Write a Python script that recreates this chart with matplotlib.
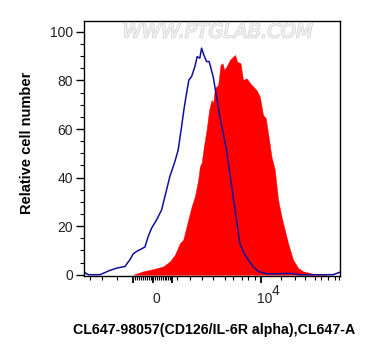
import matplotlib
matplotlib.use('Agg')
import matplotlib.pyplot as plt
import matplotlib.patheffects as pe

plt.rcParams['font.family'] = ['Liberation Sans', 'DejaVu Sans']

# display channel (0-256 on the biex axis) and relative cell number
blue_x = [0.0, 4.0, 9.0, 15.7, 25.7, 32.4, 40.7, 45.7, 49.0, 52.4, 55.7, 60.7, 64.0,
          67.4, 72.4, 77.4, 80.7, 85.7, 90.7, 94.0, 97.4, 99.7, 102.4, 104.7, 107.4,
          110.7, 113.0, 115.7, 117.4, 119.7, 122.4, 125.0, 129.0, 132.4, 135.7, 139.0,
          142.4, 145.7, 149.0, 152.4, 155.7, 159.0, 164.0, 169.0, 174.0, 182.4, 195.7,
          205.0, 215.7, 230.0, 249.0, 255.7]
blue_y = [1.0, 0.0, 0.0, 0.0, 1.8, 2.7, 3.4, 6.2, 8.6, 9.6, 10.3, 11.4, 15.8,
          19.2, 22.6, 26.7, 32.2, 40.5, 46.6, 51.4, 61.0, 67.9, 74.8, 80.2, 81.6,
          85.7, 89.8, 89.2, 93.3, 90.5, 87.8, 87.8, 81.6, 73.4, 65.1, 58.3,
          51.4, 41.8, 32.2, 22.6, 13.0, 9.6, 6.2, 3.4, 1.4, 0.4, 0.4,
          0.6, 0.0, 0.0, 0.0, 1.0]

red_x = [49.0, 59.0, 69.0, 79.0, 85.7, 90.7, 95.7, 99.0, 100.7, 104.0, 107.4, 110.7,
         114.0, 115.7, 117.4, 119.7, 122.4, 125.0, 127.4, 129.0, 130.7, 134.0, 136.4,
         138.4, 140.0, 142.4, 145.7, 149.0, 151.0, 153.0, 156.4, 159.0, 162.4, 167.4,
         172.4, 175.7, 179.0, 181.7, 184.0, 187.4, 190.7, 194.0, 197.4, 200.7, 204.0,
         209.0, 214.0, 219.0, 229.0, 242.4]
red_y = [0.0, 1.4, 2.3, 3.4, 5.5, 8.2, 13.0, 14.4, 17.1, 22.6, 28.1, 32.2,
         39.1, 44.6, 46.0, 52.8, 59.7, 67.9, 72.0, 70.6, 76.8, 78.2, 86.4,
         87.1, 84.4, 85.7, 88.5, 89.8, 90.5, 87.8, 87.1, 80.2, 80.9, 78.2,
         76.1, 73.4, 65.8, 64.5, 58.3, 48.7, 43.2, 30.9, 24.0, 18.5, 13.0,
         6.2, 2.8, 1.4, 0.4, 0.0]

y_major = [0, 20, 40, 60, 80, 100]
y_labels = ['0', '20', '40', '60', '80', '100']
y_minor = list(range(0, 105, 5))

# biex axis: linear part around zero, decades further out
x_major = [48.3, 68.5, 88.3, 176.7]
x_minor = ([5.7, 17.4, 32.4] + [48.3 + 2 * i for i in range(21)] +
           [92.4, 105.7, 117.4, 128.7, 140.7, 148.7, 157.4, 163.7, 170.7] +
           [197.4, 210.7, 220.7, 230.7, 237.4, 243.7, 250.7, 254.7])

fig = plt.figure(figsize=(3.73, 3.56), dpi=100)
ax = fig.add_axes([0.226, 0.2256, 0.6855, 0.7154])

ax.fill_between(red_x, red_y, color='#ff0000', lw=0.3, edgecolor='#ff0000')
ax.plot(blue_x, blue_y, color='#10109e', lw=1.1)

ax.set_xlim(0, 256)
ax.set_ylim(-0.4, 104.5)

ax.set_yticks(y_major)
ax.set_yticklabels(y_labels)
ax.set_yticks(y_minor, minor=True)
ax.tick_params(axis='y', which='major', length=6, width=1, pad=2,
               labelsize=10, labelcolor='#222222')
ax.tick_params(axis='y', which='minor', length=3, width=0.8)

ax.set_xticks(x_major)
ax.set_xticklabels([])
ax.set_xticks(x_minor, minor=True)
ax.tick_params(axis='x', which='major', length=5, width=1.3)
ax.tick_params(axis='x', which='minor', length=3, width=0.8)

# x tick labels, "10" with a large raised "4" like the cytometer software
xt = ax.get_xaxis_transform()
ax.text(71.7, -0.107, '0', transform=xt, ha='center', va='baseline',
        fontsize=10, color='#222222')
ax.text(180.5, -0.107, '10', transform=xt, ha='center', va='baseline',
        fontsize=10, color='#222222')
ax.text(187.5, -0.075, '4', transform=xt, ha='left', va='baseline',
        fontsize=10, color='#222222')

for s in ax.spines.values():
    s.set_linewidth(1.0)

fig.text(214.5 / 373, 1 - 330 / 356, 'CL647-98057(CD126/IL-6R alpha),CL647-A',
         ha='center', va='center', fontsize=10.2, fontweight='bold')
fig.text(26.7 / 373, 1 - 143.3 / 356, 'Relative cell number', rotation=90,
         ha='center', va='center', fontsize=10.5, fontweight='bold')

# watermark
fig.text(218 / 373, 1 - 32 / 356, 'WWW.PTGLAB.COM', ha='center', va='center',
         fontsize=14, family='DejaVu Sans', style='oblique', color='#f2f2f2',
         path_effects=[pe.withStroke(linewidth=1.1, foreground='#d4d4d4')],
         zorder=5)

fig.savefig('out.png', dpi=100)
